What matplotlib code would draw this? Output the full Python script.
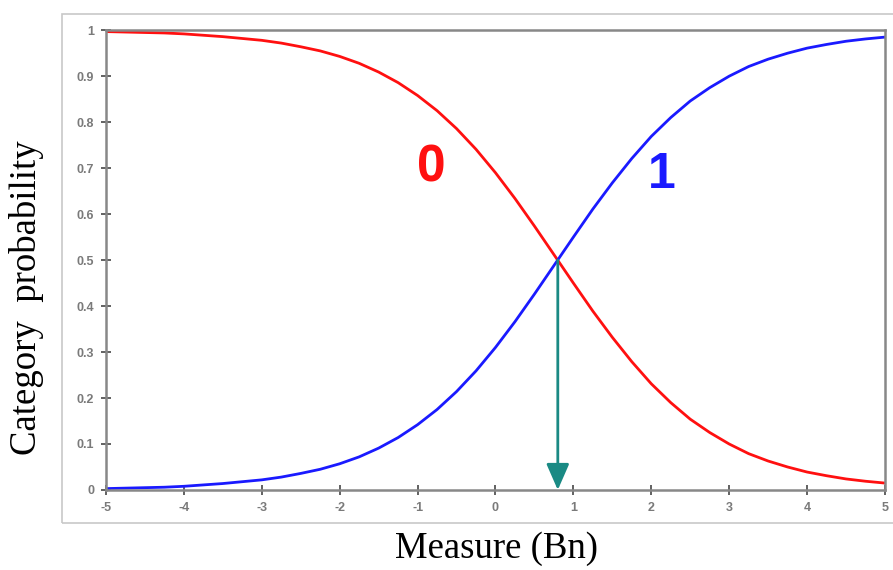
import matplotlib
matplotlib.use('Agg')
from matplotlib import pyplot as plt
from matplotlib.patches import Rectangle

plt.rcParams['axes.unicode_minus'] = False

# values
measure = [-5, -4.75, -4.5, -4.25, -4, -3.75, -3.5, -3.25, -3, -2.75, -2.5,
           -2.25, -2, -1.75, -1.5, -1.25, -1, -0.75, -0.5, -0.25, 0, 0.25,
           0.5, 0.75, 1, 1.25, 1.5, 1.75, 2, 2.25, 2.5, 2.75, 3, 3.25, 3.5,
           3.75, 4, 4.25, 4.5, 4.75, 5]
prob_1 = [0.003, 0.004, 0.005, 0.006, 0.008, 0.011, 0.014, 0.018, 0.022,
          0.028, 0.036, 0.045, 0.057, 0.072, 0.091, 0.114, 0.142, 0.175,
          0.214, 0.259, 0.310, 0.366, 0.426, 0.488, 0.550, 0.611, 0.668,
          0.721, 0.769, 0.810, 0.846, 0.875, 0.900, 0.921, 0.937, 0.950,
          0.961, 0.969, 0.976, 0.981, 0.985]
prob_0 = [0.997, 0.996, 0.995, 0.994, 0.992, 0.989, 0.986, 0.982, 0.978,
          0.972, 0.964, 0.955, 0.943, 0.928, 0.909, 0.886, 0.858, 0.825,
          0.786, 0.741, 0.690, 0.634, 0.574, 0.512, 0.450, 0.389, 0.332,
          0.279, 0.231, 0.190, 0.154, 0.125, 0.100, 0.079, 0.063, 0.050,
          0.039, 0.031, 0.024, 0.019, 0.015]
threshold = 0.8
xticks = [-5, -4, -3, -2, -1, 0, 1, 2, 3, 4, 5]
yticks = [0, 0.1, 0.2, 0.3, 0.4, 0.5, 0.6, 0.7, 0.8, 0.9, 1]
ytick_labels = ['0', '0.1', '0.2', '0.3', '0.4', '0.5', '0.6', '0.7', '0.8', '0.9', '1']

fig = plt.figure(figsize=(8.93, 5.7), dpi=100)
fig.patches.append(Rectangle((0.0694, 0.0825), 0.95, 0.893, transform=fig.transFigure,
                             fill=False, edgecolor='#c8c8c8', linewidth=1.2))
ax = fig.add_axes([0.1187, 0.1404, 0.8723, 0.8066])

ax.plot(measure, prob_0, color='#ff1010', linewidth=2)
ax.plot(measure, prob_1, color='#1a1aff', linewidth=2)
ax.annotate('', xy=(threshold, 0), xytext=(threshold, 0.5),
            arrowprops=dict(arrowstyle='-|>,head_length=1.6,head_width=0.7',
                            color='#1a8a84', linewidth=2, shrinkA=0, shrinkB=0))
ax.text(-0.82, 0.70, '0', color='#ff1010', fontsize=37, fontweight='bold',
        family='Liberation Sans', ha='center', va='center')
ax.text(2.14, 0.685, '1', color='#1a1aff', fontsize=36, fontweight='bold',
        family='Liberation Sans', ha='center', va='center')

ax.set_xlim(-5, 5)
ax.set_ylim(0, 1)
ax.set_xticks(xticks)
ax.set_yticks(yticks)
ax.set_yticklabels(ytick_labels)
for s in ax.spines.values():
    s.set_color('#888888')
    s.set_linewidth(1.8)
ax.tick_params(direction='inout', length=7, width=1.3, color='#555555',
               labelsize=9, labelcolor='#7a7a7a', pad=5)
for lbl in ax.get_xticklabels() + ax.get_yticklabels():
    lbl.set_fontweight('bold')
    lbl.set_family('Liberation Sans')

fig.text(0.556, 0.038, 'Measure (Bn)', fontsize=26.5, family='Liberation Serif',
         ha='center', va='center')
fig.text(0.030, 0.477, 'Category  probability', fontsize=26.5, family='Liberation Serif',
         ha='center', va='center', rotation=90)

fig.savefig('out.png', dpi=100)
